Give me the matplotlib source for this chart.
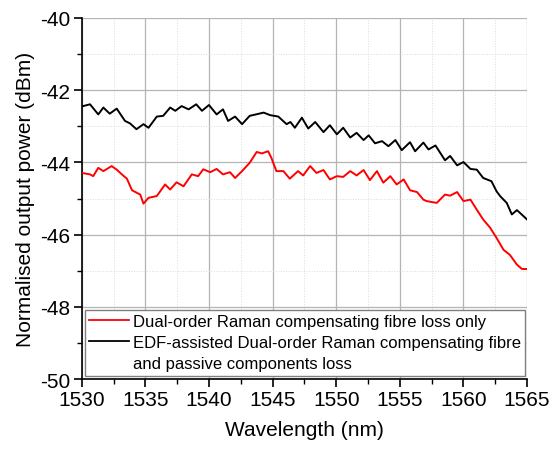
import matplotlib.pyplot as plt
from matplotlib.lines import Line2D
from matplotlib.ticker import MultipleLocator

plt.rcParams['font.family'] = ['Liberation Sans', 'DejaVu Sans']
plt.rcParams['axes.unicode_minus'] = False

# EDF-assisted dual-order Raman (black)
wl_edf = [1530.0, 1530.65, 1531.3, 1531.7, 1532.2, 1532.75, 1533.4, 1533.8, 1534.3, 1534.85,
          1535.25, 1535.9, 1536.4, 1536.95, 1537.35, 1537.85, 1538.4, 1539.0, 1539.45, 1540.0,
          1540.6, 1541.1, 1541.5, 1542.05, 1542.6, 1543.2, 1544.3, 1544.8, 1545.45, 1546.1,
          1546.4, 1546.75, 1547.3, 1547.8, 1548.35, 1549.0, 1549.5, 1550.05, 1550.55, 1551.1,
          1551.6, 1552.15, 1552.55, 1553.05, 1553.6, 1554.1, 1554.65, 1555.15, 1555.8, 1556.2,
          1556.85, 1557.25, 1557.8, 1558.55, 1558.95, 1559.5, 1560.0, 1560.55, 1561.05, 1561.55,
          1562.2, 1562.6, 1562.9, 1563.4, 1563.8, 1564.2, 1564.45, 1565.0]
p_edf = [-42.45, -42.39, -42.67, -42.48, -42.65, -42.51, -42.85, -42.92, -43.08, -42.94,
         -43.04, -42.73, -42.71, -42.48, -42.57, -42.44, -42.53, -42.39, -42.57, -42.41,
         -42.67, -42.53, -42.85, -42.73, -42.94, -42.71, -42.62, -42.69, -42.73, -42.94,
         -42.88, -43.04, -42.76, -43.06, -42.88, -43.16, -42.97, -43.22, -43.04, -43.31,
         -43.18, -43.38, -43.25, -43.47, -43.41, -43.55, -43.38, -43.66, -43.44, -43.69,
         -43.45, -43.64, -43.53, -43.94, -43.82, -44.08, -43.99, -44.18, -44.20, -44.43,
         -44.52, -44.80, -44.94, -45.12, -45.44, -45.32, -45.40, -45.58]

# dual-order Raman, fibre loss only (red)
wl_raman = [1530.0, 1530.65, 1530.9, 1531.3, 1531.7, 1532.35, 1532.75, 1533.15, 1533.55, 1533.95,
            1534.6, 1534.85, 1535.25, 1535.9, 1536.55, 1536.95, 1537.45, 1538.0, 1538.65, 1539.15,
            1539.55, 1540.1, 1540.6, 1541.1, 1541.65, 1542.05, 1542.6, 1543.2, 1543.75, 1544.15,
            1544.65, 1544.9, 1545.3, 1545.85, 1546.35, 1547.0, 1547.4, 1547.95, 1548.45, 1549.0,
            1549.5, 1550.05, 1550.55, 1551.1, 1551.6, 1552.15, 1552.65, 1553.2, 1553.7, 1554.25,
            1554.75, 1555.3, 1555.8, 1556.35, 1556.85, 1557.1, 1557.9, 1558.55, 1558.95, 1559.5,
            1560.0, 1560.55, 1561.05, 1561.55, 1562.1, 1562.6, 1563.15, 1563.65, 1564.2, 1564.6,
            1565.0]
p_raman = [-44.29, -44.33, -44.38, -44.15, -44.24, -44.10, -44.20, -44.33, -44.45, -44.77,
           -44.89, -45.14, -44.98, -44.93, -44.61, -44.75, -44.55, -44.66, -44.33, -44.38,
           -44.19, -44.27, -44.18, -44.33, -44.27, -44.43, -44.24, -44.01, -43.71, -43.75,
           -43.69, -43.87, -44.24, -44.24, -44.45, -44.24, -44.36, -44.10, -44.29, -44.21,
           -44.47, -44.38, -44.40, -44.24, -44.36, -44.21, -44.49, -44.24, -44.56, -44.38,
           -44.61, -44.47, -44.77, -44.82, -45.03, -45.07, -45.12, -44.89, -44.92, -44.82,
           -45.07, -45.03, -45.31, -45.58, -45.81, -46.09, -46.42, -46.56, -46.83, -46.95,
           -46.95]

x_ticks = [1530, 1535, 1540, 1545, 1550, 1555, 1560, 1565]
y_ticks = [-50, -48, -46, -44, -42, -40]

fig = plt.figure(figsize=(5.56, 4.52), dpi=100)
ax = fig.add_axes([0.147, 0.159, 0.801, 0.799])

ax.plot(wl_raman, p_raman, color='#ff0000', lw=1.4, zorder=3)
ax.plot(wl_edf, p_edf, color='black', lw=1.4, zorder=3)

ax.set_xlim(1530, 1565)
ax.set_ylim(-50, -40)
ax.set_xticks(x_ticks)
ax.set_yticks(y_ticks)
ax.xaxis.set_minor_locator(MultipleLocator(2.5))
ax.yaxis.set_minor_locator(MultipleLocator(1))

ax.grid(which='major', color='#b4b4b4', lw=0.9, ls='-')
ax.grid(which='minor', color='#dcdcdc', lw=0.7, ls=':')
ax.set_axisbelow(True)

for s in ['top', 'right']:
    ax.spines[s].set_visible(False)
for s in ['left', 'bottom']:
    ax.spines[s].set_linewidth(1.2)

ax.tick_params(which='major', direction='out', length=6, width=1.2, labelsize=15, pad=2)
ax.tick_params(which='minor', direction='out', length=3.5, width=1.0)

ax.set_xlabel('Wavelength (nm)', fontsize=15, labelpad=8)
ax.set_ylabel('Normalised output power (dBm)', fontsize=15, labelpad=4)

handles = [Line2D([], [], color='#ff0000', lw=1.3),
           Line2D([], [], color='black', lw=1.3),
           Line2D([], [], color='none')]
labels = ['Dual-order Raman compensating fibre loss only',
          'EDF-assisted Dual-order Raman compensating fibre',
          'and passive components loss']
leg = ax.legend(handles, labels, loc='lower left', bbox_to_anchor=(0.008, 0.01),
                fontsize=12, frameon=True, fancybox=False, framealpha=1,
                edgecolor='#808080', handlelength=2.35, handletextpad=0.25,
                labelspacing=0.38, borderpad=0.25, borderaxespad=0)
leg.get_frame().set_linewidth(1.0)

fig.savefig('out.png', dpi=100)
